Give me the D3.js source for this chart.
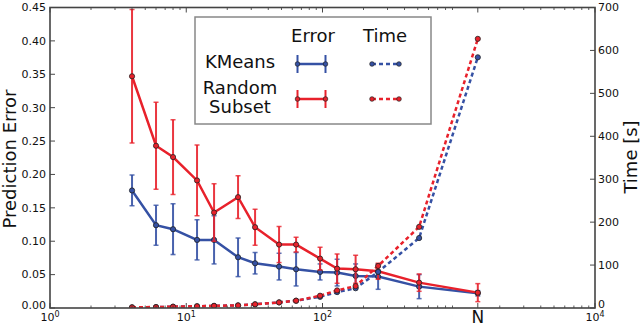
<!DOCTYPE html>
<html><head><meta charset="utf-8">
<script src="https://cdn.jsdelivr.net/npm/d3@7"></script>
<style>body{margin:0;background:#fff}svg{display:block;font-family:"DejaVu Sans",sans-serif}</style>
</head><body><svg id="c" width="640" height="326"></svg>
<script>
const N = 1380;
const sizes = [4, 6, 8, 12, 16, 24, 32, 48, 64, 96, 128, 175, 256, 512, N];
const kmeansErr = [0.176, 0.124, 0.118, 0.102, 0.102, 0.076, 0.067, 0.062, 0.058, 0.054, 0.053, 0.048, 0.047, 0.032, 0.022];
const kmeansErrSd = [0.023, 0.030, 0.038, 0.030, 0.036, 0.029, 0.016, 0.020, 0.025, 0.012, 0.020, 0.018, 0.019, 0.018, 0.004];
const randomErr = [0.347, 0.243, 0.226, 0.191, 0.143, 0.166, 0.121, 0.095, 0.095, 0.074, 0.059, 0.058, 0.055, 0.038, 0.023];
const randomErrSd = [0.100, 0.065, 0.056, 0.053, 0.043, 0.032, 0.027, 0.027, 0.011, 0.017, 0.022, 0.021, 0.012, 0.013, 0.0135];
const kmeansTime = [1.5, 2, 3, 4, 5, 6, 8.5, 13, 17, 26, 37, 46, 84, 163, 584];
const randomTime = [1.6, 2.2, 3, 4, 5, 6, 8.6, 13, 17, 28.6, 41, 51, 98, 189, 627];
const xTickVals = [1, 10, 100, N, 10000];
const xTickLabels = [["10","0"], ["10","1"], ["10","2"], ["N",""], ["10","4"]];
const errTicks = [0, 0.05, 0.10, 0.15, 0.20, 0.25, 0.30, 0.35, 0.40, 0.45];
const timeTicks = [0, 100, 200, 300, 400, 500, 600, 700];

const BLUE = "#3551a4", RED = "#e8212b";
const L = 50, R = 595, T = 7.5, B = 308;
const svg = d3.select("#c");
const x = d3.scaleLog().domain([1, 10000]).range([L, R]);
const yE = d3.scaleLinear().domain([0, 0.45]).range([B, T]);
const yT = d3.scaleLinear().domain([0, 700]).range([B, T]);

svg.append("defs").append("clipPath").attr("id", "clip")
  .append("rect").attr("x", L).attr("y", T).attr("width", R - L).attr("height", B - T);
const plot = svg.append("g").attr("clip-path", "url(#clip)");

function errSeries(vals, sds, color) {
  const g = plot.append("g");
  sizes.forEach((s, i) => {
    const hi = vals[i] + sds[i], lo = vals[i] - sds[i];
    g.append("line").attr("x1", x(s)).attr("x2", x(s)).attr("y1", yE(hi)).attr("y2", yE(lo))
      .attr("stroke", color).attr("stroke-width", 2).attr("stroke-opacity", 0.9);
    [hi, lo].forEach(v => g.append("line").attr("x1", x(s) - 2.5).attr("x2", x(s) + 2.5)
      .attr("y1", yE(v)).attr("y2", yE(v)).attr("stroke", color).attr("stroke-width", 1.5).attr("stroke-opacity", 0.8));
  });
  g.append("path").attr("d", d3.line().x((d, i) => x(sizes[i])).y(d => yE(d))(vals))
    .attr("fill", "none").attr("stroke", color).attr("stroke-width", 2.5);
  sizes.forEach((s, i) => g.append("circle").attr("cx", x(s)).attr("cy", yE(vals[i])).attr("r", 2.6)
    .attr("fill", color).attr("stroke", "#222").attr("stroke-width", 0.8));
}
function timeSeries(vals, color) {
  const g = plot.append("g");
  g.append("path").attr("d", d3.line().x((d, i) => x(sizes[i])).y(d => yT(d))(vals))
    .attr("fill", "none").attr("stroke", color).attr("stroke-width", 2.5).attr("stroke-dasharray", "4,3");
  sizes.forEach((s, i) => g.append("circle").attr("cx", x(s)).attr("cy", yT(vals[i])).attr("r", 2.6)
    .attr("fill", color).attr("stroke", "#222").attr("stroke-width", 0.8));
}
errSeries(kmeansErr, kmeansErrSd, BLUE);
errSeries(randomErr, randomErrSd, RED);
timeSeries(kmeansTime, BLUE);
timeSeries(randomTime, RED);

// ticks
const axes = svg.append("g").attr("stroke", "#333");
const minor = [];
for (let k = 0; k < 4; k++) for (let m = 2; m <= 9; m++) minor.push(m * Math.pow(10, k));
minor.forEach(v => {
  axes.append("line").attr("x1", x(v)).attr("x2", x(v)).attr("y1", B).attr("y2", B - 2.5).attr("stroke-width", 0.8);
  axes.append("line").attr("x1", x(v)).attr("x2", x(v)).attr("y1", T).attr("y2", T + 2.5).attr("stroke-width", 0.8);
});
xTickVals.forEach(v => {
  axes.append("line").attr("x1", x(v)).attr("x2", x(v)).attr("y1", B).attr("y2", B - 5).attr("stroke-width", 0.9);
  axes.append("line").attr("x1", x(v)).attr("x2", x(v)).attr("y1", T).attr("y2", T + 5).attr("stroke-width", 0.9);
});
errTicks.forEach(v => axes.append("line").attr("x1", L).attr("x2", L + 5).attr("y1", yE(v)).attr("y2", yE(v)).attr("stroke-width", 0.9));
timeTicks.forEach(v => axes.append("line").attr("x1", R).attr("x2", R - 5).attr("y1", yT(v)).attr("y2", yT(v)).attr("stroke-width", 0.9));
svg.append("rect").attr("x", L).attr("y", T).attr("width", R - L).attr("height", B - T)
  .attr("fill", "none").attr("stroke", "#444").attr("stroke-width", 1.6);

// tick labels
const lab = svg.append("g").attr("fill", "#111").attr("font-size", 11);
errTicks.forEach(v => lab.append("text").attr("x", 46).attr("y", yE(v) - (v === 0 ? 3 : 0)).attr("dy", "0.35em")
  .attr("text-anchor", "end").text(d3.format(".2f")(v)));
timeTicks.forEach(v => lab.append("text").attr("x", 598).attr("y", yT(v) - (v === 0 ? 4 : 0)).attr("dy", "0.35em")
  .attr("text-anchor", "start").text(v));
xTickVals.forEach((v, i) => {
  const [base, sup] = xTickLabels[i];
  if (sup === "") {
    lab.append("text").attr("x", x(v)).attr("y", 323).attr("text-anchor", "middle").attr("font-size", 17).text(base);
  } else {
    const t = lab.append("text").attr("x", x(v)).attr("y", 321).attr("text-anchor", "middle");
    t.append("tspan").text(base);
    t.append("tspan").attr("dy", -4).attr("font-size", 8).text(sup);
  }
});

// axis titles
svg.append("text").attr("transform", "translate(16,159) rotate(-90)").attr("text-anchor", "middle")
  .attr("font-size", 18).attr("fill", "#111").text("Prediction Error");
svg.append("text").attr("transform", "translate(637,157) rotate(-90)").attr("text-anchor", "middle")
  .attr("font-size", 18).attr("fill", "#111").text("Time [s]");

// legend
const lg = svg.append("g");
lg.append("rect").attr("x", 195).attr("y", 17).attr("width", 236).attr("height", 107)
  .attr("fill", "#fff").attr("stroke", "#888").attr("stroke-width", 1.5);
const lt = lg.append("g").attr("font-size", 18).attr("fill", "#111").attr("text-anchor", "middle");
lt.append("text").attr("x", 313).attr("y", 42).text("Error");
lt.append("text").attr("x", 385).attr("y", 42).text("Time");
lt.append("text").attr("x", 240).attr("y", 68).text("KMeans");
lt.append("text").attr("x", 240).attr("y", 94).text("Random");
lt.append("text").attr("x", 240).attr("y", 113).text("Subset");
[[64, BLUE], [99, RED]].forEach(([yy, c]) => {
  lg.append("line").attr("x1", 297.5).attr("x2", 325.5).attr("y1", yy).attr("y2", yy).attr("stroke", c).attr("stroke-width", 2.5);
  [297.5, 325.5].forEach(xx => {
    lg.append("line").attr("x1", xx).attr("x2", xx).attr("y1", yy - 9).attr("y2", yy + 9).attr("stroke", c).attr("stroke-width", 2);
    lg.append("circle").attr("cx", xx).attr("cy", yy).attr("r", 2.3).attr("fill", c).attr("stroke", "#222").attr("stroke-width", 0.7);
  });
  lg.append("line").attr("x1", 372).attr("x2", 399).attr("y1", yy).attr("y2", yy).attr("stroke", c).attr("stroke-width", 2.5).attr("stroke-dasharray", "4,3");
  [372, 399].forEach(xx => lg.append("circle").attr("cx", xx).attr("cy", yy).attr("r", 2.3).attr("fill", c).attr("stroke", "#222").attr("stroke-width", 0.7));
});
</script></body></html>
